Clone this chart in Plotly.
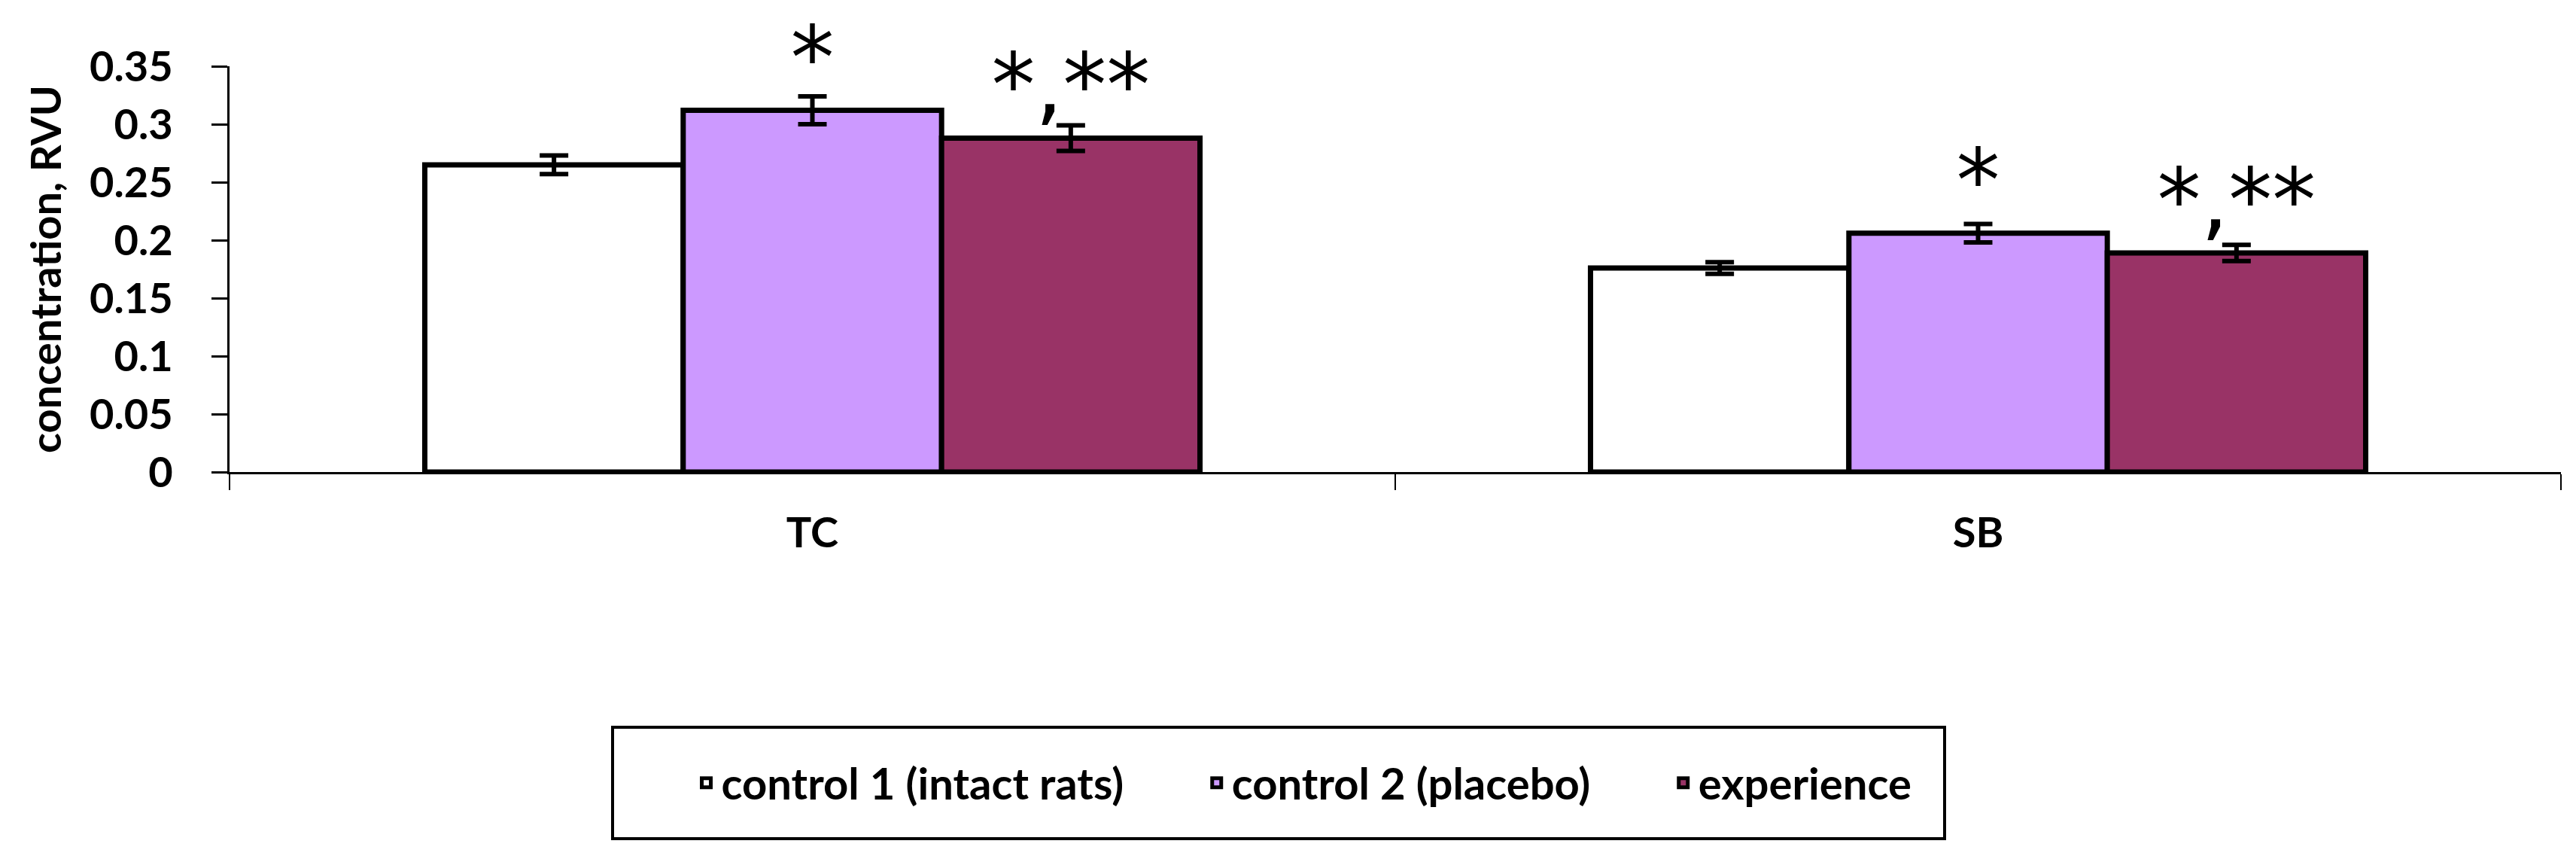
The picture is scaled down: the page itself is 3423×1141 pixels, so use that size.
import plotly.graph_objects as go

categories = ["TC", "SB"]
series_names = ["control 1 (intact rats)", "control 2 (placebo)", "experience"]
control1 = [0.265, 0.176]
control1_err = [0.008, 0.005]
control2 = [0.312, 0.206]
control2_err = [0.012, 0.008]
experience = [0.288, 0.189]
experience_err = [0.011, 0.007]
control2_marks = ["*", "*"]
experience_marks = ["*,**", "*,**"]
y_ticks = [0, 0.05, 0.1, 0.15, 0.2, 0.25, 0.3, 0.35]
y_tick_labels = ["0", "0.05", "0.1", "0.15", "0.2", "0.25", "0.3", "0.35"]

colors = ["#FFFFFF", "#CC99FF", "#993366"]
values = [control1, control2, experience]
errors = [control1_err, control2_err, experience_err]
marks = [["", ""], control2_marks, experience_marks]

W, H = 3423, 1141
ML, MR, MT, MB = 297, 28, 80, 522
PW, PH = W - ML - MR, H - MT - MB

def px_x(x):
    return (x - ML) / PW

def px_y(y):
    return (H - MB - y) / PH

NBSP = "\u00a0"
pad = [NBSP * 7, NBSP * 7, ""]

FONT = "Lato"
fig = go.Figure()
for name, p, vals, errs, col, mk in zip(series_names, pad, values, errors, colors, marks):
    fig.add_trace(go.Bar(
        name=name + p, x=categories, y=vals,
        marker=dict(color=col, line=dict(color="black", width=7)),
        error_y=dict(type="data", array=errs, visible=True, color="black",
                     thickness=6, width=19),
        text=mk, textposition="outside", constraintext="none",
        textfont=dict(family="DejaVu Sans", size=116, color="black"),
        cliponaxis=False,
    ))

# legend frame
fig.add_shape(type="rect", xref="paper", yref="paper",
              x0=px_x(806), x1=px_x(2576), y0=px_y(958), y1=px_y(1106),
              line=dict(color="black", width=4), fillcolor="rgba(0,0,0,0)", layer="below")

fig.update_layout(
    width=W, height=H,
    margin=dict(l=ML, r=MR, t=MT, b=MB, autoexpand=False),
    paper_bgcolor="white", plot_bgcolor="white",
    barmode="group", bargap=0.335, bargroupgap=0,
    font=dict(family=FONT, size=56, color="black"),
    showlegend=True,
    legend=dict(
        orientation="h", x=px_x(1724), xanchor="center", y=px_y(1032), yanchor="middle",
        borderwidth=0, bgcolor="rgba(0,0,0,0)",
        font=dict(family=FONT, size=58, color="black", weight="bold"),
        itemwidth=30,
    ),
    xaxis=dict(
        showline=True, linecolor="black", linewidth=3,
        ticks="outside", tickson="boundaries", ticklen=21, tickwidth=2, tickcolor="black",
        tickfont=dict(family=FONT, size=56, weight="bold"),
        ticklabelstandoff=30,
        showgrid=False, zeroline=False,
    ),
    yaxis=dict(
        range=[0, 0.35], tickvals=y_ticks, ticktext=y_tick_labels,
        showline=True, linecolor="black", linewidth=3,
        ticks="outside", ticklen=21, tickwidth=3, tickcolor="black",
        tickfont=dict(family=FONT, size=56, weight="bold"),
        ticklabelstandoff=40,
        showgrid=False, zeroline=False,
        title=dict(text="concentration, RVU", font=dict(family=FONT, size=56, weight="bold"),
                   standoff=20),
    ),
)

fig.write_html("out.html")
